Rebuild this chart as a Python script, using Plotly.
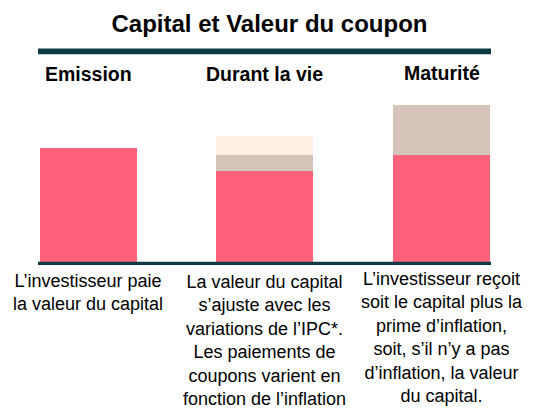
"""
Capital et Valeur du coupon - schéma en barres empilées
"""
import plotly.graph_objects as go

# données (capital à l'émission = 100)
etapes = ["Emission", "Durant la vie", "Maturité"]
capital = [100, 80.8, 94]
prime_inflation = [0, 13.5, 43.4]
coupon = [0, 16.3, 0]

textes = [
    "L’investisseur paie<br>la valeur du capital",
    "La valeur du capital<br>s’ajuste avec les<br>variations de l’IPC*.<br>"
    "Les paiements de<br>coupons varient en<br>fonction de l’inflation",
    "L’investisseur reçoit<br>soit le capital plus la<br>prime d’inflation,<br>"
    "soit, s’il n’y a pas<br>d’inflation, la valeur<br>du capital.",
]

# la page html a une marge de 8px autour du graphique
OFF = 8
W, H = 539 - OFF, 413 - OFF
TOP, BOTTOM, LEFT, RIGHT = 100 - OFF, 148, 38 - OFF, 48
FONT = "Arial, Liberation Sans, sans-serif"
TEAL = "#0d3b45"


def build_figure():
    fig = go.Figure()
    series = [
        ("Capital", capital, "#ff637c"),
        ("Prime d'inflation", prime_inflation, "#d5c4b9"),
        ("Coupon", coupon, "#feeee4"),
    ]
    for name, vals, color in series:
        fig.add_trace(go.Bar(
            x=list(range(len(etapes))), y=vals, name=name,
            width=0.549,
            marker=dict(color=color, line=dict(width=0)),
        ))

    plot_h = H - TOP - BOTTOM
    # trait du haut (sous le titre) et trait de base
    y_top = (H - BOTTOM - (51.3 - OFF)) / plot_h
    fig.add_shape(type="line", xref="paper", yref="paper", x0=0, x1=1,
                  y0=y_top, y1=y_top, line=dict(color=TEAL, width=5.8))
    fig.add_shape(type="line", xref="paper", yref="y", x0=0, x1=1,
                  y0=0.4, y1=0.4, line=dict(color=TEAL, width=5.4))

    # titres des étapes
    shifts = [26.5, 26.5, 27]
    for i, (lab, s) in enumerate(zip(etapes, shifts)):
        fig.add_annotation(x=i, y=1, xref="x", yref="paper", text="<b>%s</b>" % lab,
                           showarrow=False, yanchor="middle", yshift=s,
                           font=dict(family=FONT, size=19.5, color="black"))

    # textes explicatifs
    shifts = [-3.8, -5.3, -2]
    for i, (t, s) in enumerate(zip(textes, shifts)):
        fig.add_annotation(x=i, y=0, xref="x", yref="paper", text=t,
                           showarrow=False, yanchor="top", yshift=s, align="center",
                           font=dict(family=FONT, size=18, color="black"))

    fig.update_layout(
        width=W, height=H,
        margin=dict(l=LEFT, r=RIGHT, t=TOP, b=BOTTOM, pad=0),
        title=dict(text="<b>Capital et Valeur du coupon</b>",
                   x=(269.5 - OFF) / W, xref="container",
                   y=1 - (24 - OFF) / H, yref="container",
                   yanchor="middle", xanchor="center",
                   font=dict(family=FONT, size=24, color="black")),
        barmode="stack",
        bargap=0,
        showlegend=False,
        plot_bgcolor="white",
        paper_bgcolor="white",
        xaxis=dict(range=[-0.283, 2.28], visible=False),
        yaxis=dict(range=[0, 141.4], visible=False),
    )
    return fig


def main():
    fig = build_figure()
    fig.write_html("out.html")


if __name__ == "__main__":
    main()
